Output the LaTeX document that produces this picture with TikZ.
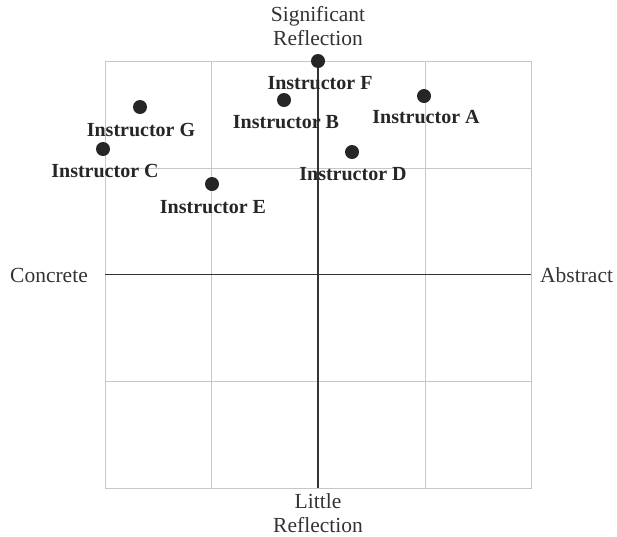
\documentclass[tikz,border=0pt]{standalone}
\usepackage{fontspec}
\setmainfont{Liberation Serif}
\begin{document}
\begin{tikzpicture}[x=1pt,y=-1pt,
  gridline/.style={draw=black!22, line width=0.8pt},
  axisline/.style={draw=black!80, line width=1.4pt},
  dot/.style={circle, fill=black!85, inner sep=0pt, minimum size=14pt},
  lab/.style={font=\fontsize{20}{22}\selectfont\bfseries, text=black!85, inner sep=0pt},
  axlab/.style={font=\fontsize{21.5}{23.5}\selectfont, text=black!80, inner sep=0pt, align=center}]
\useasboundingbox (0,0) rectangle (617,536);
% grid
\draw[gridline] (105,61) rectangle (531,488);
\foreach \x in {211.5,425} \draw[gridline] (\x,61) -- (\x,488);
\foreach \y in {168,381} \draw[gridline] (105,\y) -- (531,\y);
% axes
\coordinate (top) at (318,61);
\coordinate (bot) at (318,488);
\coordinate (lft) at (105,274.5);
\coordinate (rgt) at (531,274.5);
\draw[axisline] (top) -- (bot);
\draw[axisline] (lft) -- (rgt);
% axis labels
\node[axlab] (sig) at (318,26) {Significant\\Reflection};
\node[axlab] (lit) at (318,513) {Little\\Reflection};
\node[axlab, anchor=east] (con) at (88,275) {Concrete};
\node[axlab, anchor=west] (abs) at (540,275) {Abstract};
% points
\node[dot] (pG) at (140,107) {};
\node[dot] (pC) at (103,149) {};
\node[dot] (pE) at (212,184) {};
\node[dot] (pB) at (284,100) {};
\node[dot] (pF) at (318,61) {};
\node[dot] (pA) at (424,96) {};
\node[dot] (pD) at (352,152) {};
% labels
\node[lab] (lG) at (141,130) {Instructor G};
\node[lab] (lC) at (105,171) {Instructor C};
\node[lab] (lE) at (213,207) {Instructor E};
\node[lab] (lB) at (286,122) {Instructor B};
\node[lab] (lF) at (320,83) {Instructor F};
\node[lab] (lA) at (426,117) {Instructor A};
\node[lab] (lD) at (353,174) {Instructor D};
\end{tikzpicture}
\end{document}
